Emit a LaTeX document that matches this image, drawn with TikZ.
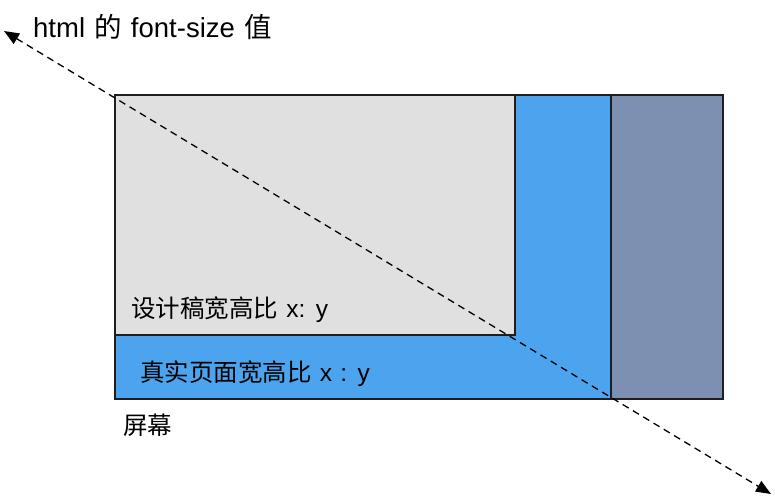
\documentclass[tikz,border=0pt]{standalone}
\usepackage{fontspec}
\setmainfont{Liberation Sans}[WordSpace=1.2]
\newfontfamily\cjk{Noto Sans CJK SC}[WordSpace=1.2]
\usetikzlibrary{arrows.meta}
\definecolor{lightgr}{RGB}{224,224,224}
\definecolor{skyblue}{RGB}{76,163,238}
\definecolor{slateblue}{RGB}{126,144,178}
\definecolor{edge}{RGB}{30,30,30}
\begin{document}
\begin{tikzpicture}[x=1pt,y=-1pt,
  panel/.style={draw=edge,line width=1.3pt,inner sep=0pt,outer sep=0pt,anchor=north west},
  lbl/.style={anchor=base west,inner sep=0pt,font=\fontsize{24.5}{27}\selectfont},
  biglbl/.style={lbl,font=\fontsize{27.5}{30}\selectfont},
  diag/.style={dashed,dash pattern=on 7pt off 5pt,line width=1.3pt,{Triangle[length=15pt,width=12pt]}-{Triangle[length=15pt,width=12pt]}}]
\useasboundingbox (0,0) rectangle (775,499);
\node[panel,fill=skyblue,minimum width=496pt,minimum height=304pt] (real) at (115,95) {};
\node[panel,fill=slateblue,minimum width=112pt,minimum height=304pt] (extra) at (611,95) {};
\node[panel,fill=lightgr,minimum width=400pt,minimum height=240pt] (design) at (115,95) {};
\node[biglbl] (t1) at (33,37) {html {\cjk 的} font-size {\cjk 值}};
\node[lbl] (t2) at (131,317) {{\cjk 设计稿宽高比} x: y};
\node[lbl] (t3) at (140,381) {{\cjk 真实页面宽高比} x : y};
\node[lbl] (t4) at (123,434) {\cjk 屏幕};
\coordinate (a) at (4,31);
\coordinate (b) at (771,494);
\draw[diag] (a) -- (b);
\end{tikzpicture}
\end{document}
